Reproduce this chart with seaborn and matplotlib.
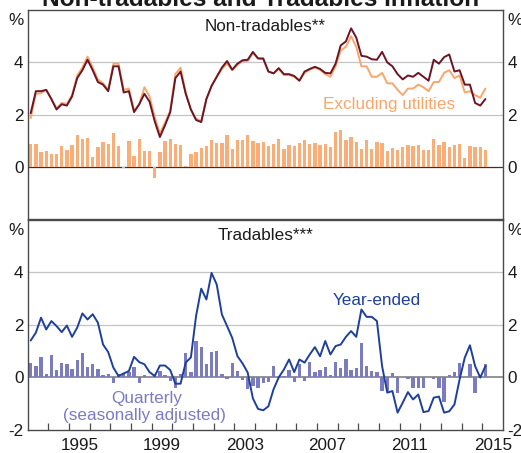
import numpy as np
import pandas as pd
import matplotlib
matplotlib.use("Agg")
import matplotlib.pyplot as plt
import seaborn as sns

sns.set_theme(style="white")
plt.rcParams['font.family'] = ['Liberation Sans', 'DejaVu Sans']

# ---------------- data (quarterly, March 1993 - March 2015) ----------------
start_year = 1993.15  # mid-quarter position of the first observation

nontradables_ye = [2.06, 2.9, 2.9, 2.95, 2.6, 2.2, 2.4, 2.35, 2.7, 3.4,
                   3.7, 4.1, 3.7, 3.25, 3.15, 2.9, 3.85, 3.85, 2.85, 2.9,
                   2.1, 2.4, 2.8, 2.5, 1.75, 1.15, 1.6, 2.1, 3.4, 3.65,
                   2.8, 2.2, 1.8, 1.72, 2.6, 3.1, 3.45, 3.8, 4.05, 3.72,
                   3.95, 4.08, 4.1, 4.4, 4.15, 4.15, 3.65, 3.58, 3.78, 3.55,
                   3.55, 3.48, 3.3, 3.65, 3.75, 3.83, 3.75, 3.6, 3.58, 3.95,
                   4.65, 4.8, 5.3, 4.95, 4.25, 4.22, 4.12, 4.1, 4.4, 4.0,
                   3.85, 3.55, 3.35, 3.5, 3.45, 3.6, 3.45, 3.3, 4.1, 3.95,
                   4.2, 4.3, 3.65, 3.7, 3.15, 3.15, 2.45, 2.35, 2.6]

nontradables_exutil_ye = [1.87, 2.8, 2.82, 2.95, 2.6, 2.25, 2.45, 2.42, 2.75, 3.5,
                          3.8, 4.22, 3.8, 3.35, 3.2, 2.95, 3.95, 3.95, 2.95, 3.0,
                          2.15, 2.4, 3.05, 2.7, 1.9, 1.3, 1.7, 2.15, 3.55, 3.8,
                          2.85, 2.2, 1.85, 1.75, 2.6, 3.1, 3.45, 3.75, 3.95, 3.7,
                          3.9, 4.05, 4.05, 4.35, 4.15, 4.12, 3.65, 3.58, 3.75, 3.52,
                          3.52, 3.45, 3.3, 3.6, 3.72, 3.8, 3.72, 3.55, 3.45, 3.85,
                          4.45, 4.6, 5.0, 4.6, 3.85, 3.85, 3.45, 3.45, 3.6, 3.2,
                          3.2, 2.95, 2.75, 3.0, 3.0, 3.15, 3.05, 2.9, 3.25, 3.25,
                          3.6, 3.7, 3.4, 3.5, 2.85, 2.9, 2.75, 2.65, 3.0]

nontradables_q = [0.89, 0.89, 0.57, 0.62, 0.52, 0.52, 0.79, 0.66, 0.83, 1.22,
                  1.08, 1.12, 0.37, 0.77, 0.95, 0.89, 1.30, 0.81, -0.05, 0.99,
                  0.43, 1.07, 0.61, 0.62, -0.43, 0.57, 1.00, 1.07, 0.89, 0.85,
                  0.05, 0.51, 0.57, 0.72, 0.80, 1.02, 0.94, 0.93, 1.22, 0.69,
                  1.05, 1.05, 1.23, 0.99, 0.91, 0.97, 0.79, 0.89, 1.09, 0.69,
                  0.85, 0.81, 0.91, 1.04, 0.89, 0.94, 0.84, 0.89, 0.77, 1.33,
                  1.42, 1.04, 1.14, 0.95, 0.71, 1.03, 0.70, 0.97, 0.91, 0.60,
                  0.74, 0.66, 0.76, 0.86, 0.79, 0.85, 0.66, 0.66, 1.07, 0.85,
                  0.95, 0.76, 0.84, 0.90, 0.34, 0.81, 0.75, 0.77, 0.67]

tradables_ye = [1.4, 1.7, 2.27, 1.82, 2.14, 1.95, 1.72, 1.97, 1.54, 1.89,
                2.43, 2.2, 2.4, 2.08, 1.25, 0.96, 0.37, 0.05, 0.15, 0.24,
                0.78, 0.58, 0.5, 0.2, 0.05, 0.45, 0.45, 0.28, -0.24, -0.24,
                0.56, 0.76, 2.33, 3.37, 2.96, 3.97, 3.53, 2.39, 1.95, 1.5,
                0.81, 0.53, 0.18, -0.8, -1.2, -1.25, -1.1, -0.45, 0.0, 0.3,
                0.68, 0.2, 0.68, 0.56, 0.87, 1.15, 0.8, 1.38, 0.87, 1.19,
                1.25, 1.54, 1.76, 1.54, 2.58, 2.3, 2.3, 2.14, 0.43, -0.58,
                -0.52, -1.34, -0.96, -0.56, -0.84, -0.65, -1.32, -1.28, -0.77, -0.73,
                -1.34, -1.29, -1.03, -0.08, 0.75, 1.22, 0.43, -0.01, 0.43]

tradables_q = [0.53, 0.43, 0.78, 0.11, 0.86, 0.27, 0.53, 0.49, 0.30, 0.65,
               0.94, 0.39, 0.49, 0.30, 0.09, 0.14, -0.2, 0.11, 0.18, 0.22,
               0.39, -0.2, 0.10, 0.02, 0.13, 0.23, 0.10, -0.13, -0.39, 0.13,
               0.94, 0.2, 1.4, 1.15, 0.49, 0.95, 0.99, 0.11, -0.05, 0.53,
               0.23, -0.1, -0.43, -0.33, -0.4, -0.2, -0.16, 0.43, -0.02, 0.05,
               0.27, -0.18, 0.49, -0.14, 0.6, 0.2, 0.27, 0.38, 0.1, 0.58,
               0.34, 0.68, 0.28, 0.35, 1.32, 0.42, 0.24, 0.22, -0.52, -0.52,
               0.18, -0.58, 0.0, -0.05, -0.39, -0.39, -0.4, 0.0, -0.08, -0.39,
               -0.93, 0.1, 0.2, 0.53, 0.02, 0.49, -0.58, 0.05, 0.49]

label_years = [1995, 1999, 2003, 2007, 2011, 2015]

# ---------------- styling ----------------
maroon = "#6b1526"
orange_line = "#f9a66c"
orange_bar = "#fbad78"
blue = "#1f3f9c"
purple = "#7b7bc2"
frame = "#4a4a4a"
gridc = "#c4c4c4"
fs = 12.3

n = len(nontradables_q)
xq = start_year + 0.25 * np.arange(n)
df = pd.DataFrame({
    "x": xq,
    "nt_ye": nontradables_ye,
    "nt_ex": nontradables_exutil_ye,
    "nt_q": nontradables_q,
    "tr_ye": tradables_ye,
    "tr_q": tradables_q,
})

W, H = 521, 453
fig = plt.figure(figsize=(W / 100, H / 100), dpi=100)
left_px, right_px = 27.6, 503.0
top1, sep, bot2 = 10.0, 219.5, 430.0
ax1 = fig.add_axes([left_px / W, 1 - sep / H, (right_px - left_px) / W, (sep - top1) / H])
ax2 = fig.add_axes([left_px / W, 1 - bot2 / H, (right_px - left_px) / W, (bot2 - sep) / H])

for ax in (ax1, ax2):
    ax.set_xlim(1993, 2016)
    ax.set_ylim(-2, 6)
    for v in (2, 4):
        ax.axhline(v, color=gridc, lw=0.9, zorder=0)
    for s in ax.spines.values():
        s.set_color(frame)
        s.set_linewidth(1.0)

ax1.axhline(0, color="#333333", lw=0.9, zorder=1)
ax2.axhline(0, color="#8a8a8a", lw=1.3, zorder=1)

# top panel
sns.barplot(data=df, x="x", y="nt_q", native_scale=True, width=0.65, color=orange_bar,
            saturation=1, linewidth=0, errorbar=None, ax=ax1, zorder=2)
sns.lineplot(data=df, x="x", y="nt_ex", color=orange_line, lw=1.4, ax=ax1, zorder=3)
sns.lineplot(data=df, x="x", y="nt_ye", color=maroon, lw=1.4, ax=ax1, zorder=4)

# bottom panel
sns.barplot(data=df, x="x", y="tr_q", native_scale=True, width=0.65, color=purple,
            saturation=1, linewidth=0, errorbar=None, ax=ax2, zorder=2)
sns.lineplot(data=df, x="x", y="tr_ye", color=blue, lw=1.4, ax=ax2, zorder=4)

for ax in (ax1, ax2):
    ax.set_xlim(1993, 2016)
    ax.set_ylim(-2, 6)
    ax.set_xlabel("")
    ax.set_ylabel("")

# y tick labels on both sides
ax1.set_yticks([0, 2, 4, 5.65])
ax1.set_yticklabels(["0", "2", "4", "%"])
ax2.set_yticks([-2, 0, 2, 4, 5.65])
ax2.set_yticklabels(["-2", "0", "2", "4", "%"])
for ax in (ax1, ax2):
    ax.tick_params(axis="y", which="both", left=True, right=True, labelleft=True,
                   labelright=True, length=0, pad=3, labelsize=fs, labelcolor="#1a1a1a")

# x ticks
ax1.set_xticks([])
ax1.tick_params(axis="x", which="both", bottom=False, labelbottom=False)
ax2.set_xticks(list(range(1994, 2016)))
ax2.set_xticklabels([])
ax2.set_xticks([y + 0.5 for y in label_years], minor=True)
ax2.set_xticklabels([str(y) for y in label_years], minor=True)
ax2.tick_params(axis="x", which="major", direction="in", length=5, width=0.9,
                color=frame, bottom=True, top=False)
ax2.tick_params(axis="x", which="minor", length=0, pad=6, labelsize=fs, labelcolor="#1a1a1a")

# titles
fig.text(0.5, 1 - 5.5 / H, "Non-tradables and Tradables Inflation", ha="center",
         va="baseline", fontsize=17.6, fontweight="bold", color="#1a1a1a")
ax1.text(0.5, 1 - 21.5 / (sep - top1), "Non-tradables**", transform=ax1.transAxes,
         ha="center", va="baseline", fontsize=fs, color="#1a1a1a")
ax2.text(0.5, 1 - 20.5 / (bot2 - sep), "Tradables***", transform=ax2.transAxes,
         ha="center", va="baseline", fontsize=fs, color="#1a1a1a")

# annotations
ax1.text(2010.5, 2.41, "Excluding utilities", ha="center", va="center",
         fontsize=fs, color=orange_line)
ax2.text(2009.9, 2.94, "Year-ended", ha="center", va="center", fontsize=fs, color=blue)
ax2.text(1998.75, -0.8, "Quarterly", ha="center", va="center", fontsize=fs, color=purple)
ax2.text(1998.65, -1.44, "(seasonally adjusted)", ha="center", va="center",
         fontsize=fs, color=purple)

fig.savefig("out.png", dpi=100)
